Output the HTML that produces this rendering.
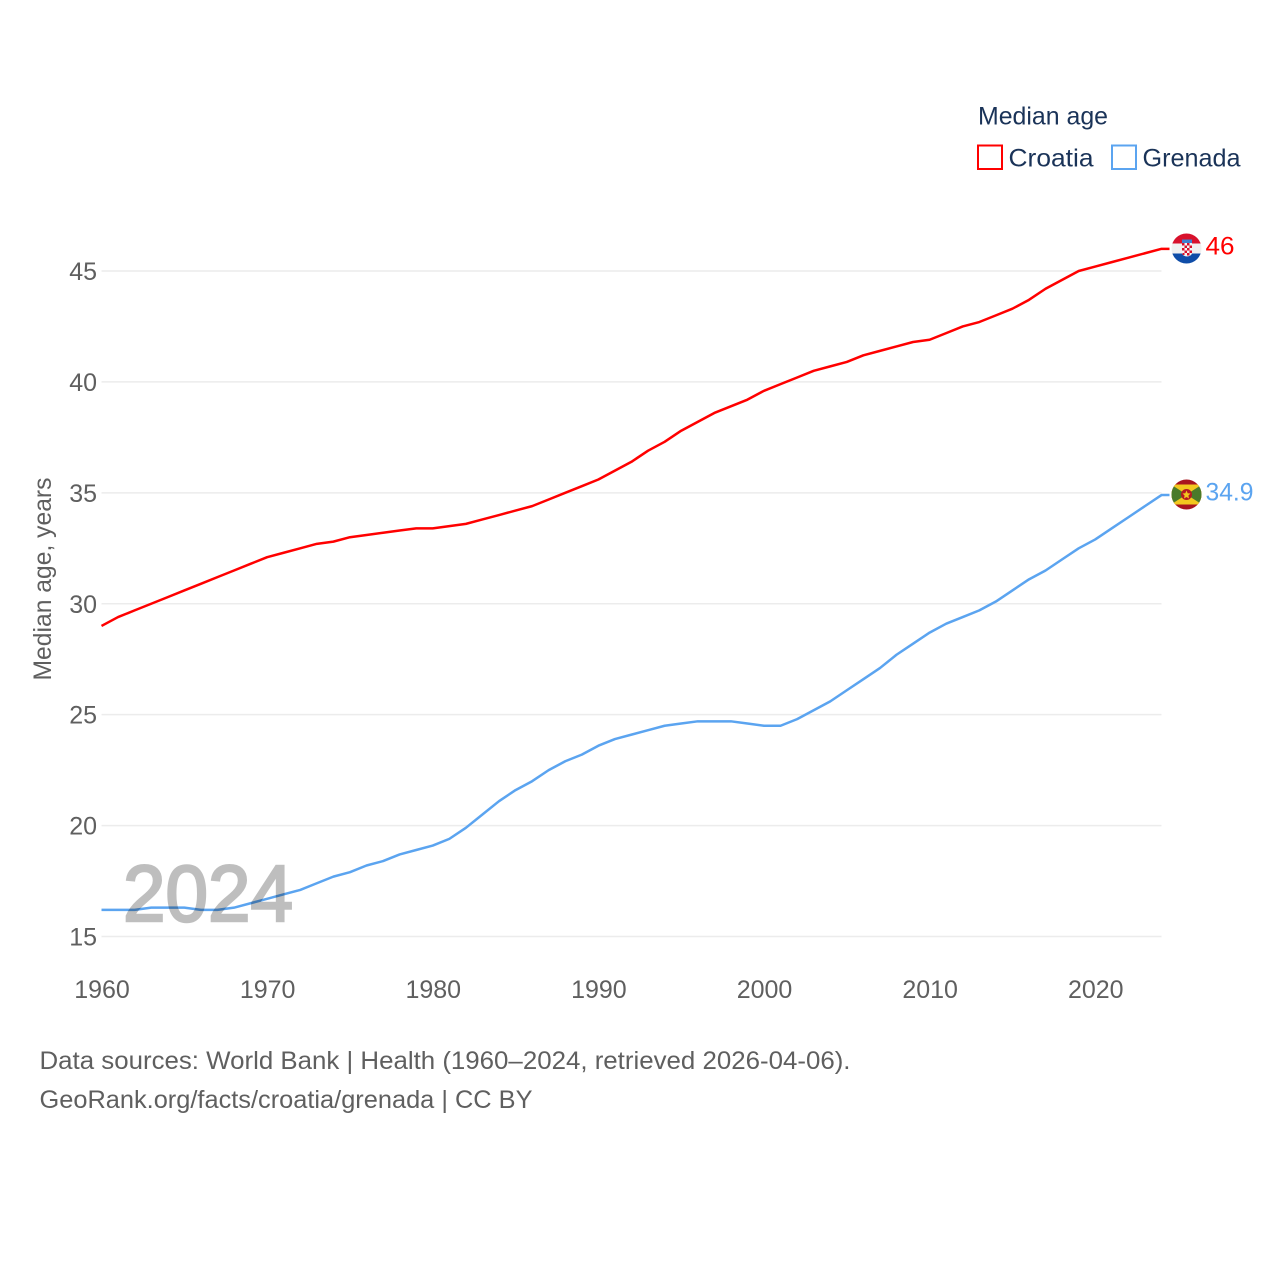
<!DOCTYPE html>
<html lang="en">
<head>
<meta charset="utf-8">
<title>Median age: Croatia and Grenada</title>
<style>
html,body{margin:0;padding:0;background:#fff;}
svg{display:block;font-family:"Liberation Sans",sans-serif;}
</style>
</head>
<body>
<svg id="chart" xmlns="http://www.w3.org/2000/svg" width="1280" height="1280" viewBox="0 0 1280 1280">
  <defs>
    <clipPath id="flag-clip-hr"><circle cx="1186.5" cy="248.5" r="15"/></clipPath>
    <clipPath id="flag-clip-gd"><circle cx="1186.5" cy="494.5" r="15"/></clipPath>
  </defs>
  <rect x="0" y="0" width="1280" height="1280" fill="#fff"/>

  <g id="grid"></g>
  <g id="yticks"></g>
  <g id="xticks"></g>
  <g id="series"></g>

  <text transform="translate(51,579) rotate(-90)" text-anchor="middle" font-size="25" fill="#5f5f5f" textLength="203" lengthAdjust="spacingAndGlyphs">Median age, years</text>

  <text x="123" y="921" font-size="80" fill="#000" stroke="#000" stroke-width="2.5" opacity="0.25" textLength="170" lengthAdjust="spacingAndGlyphs">2024</text>

  <g>
    <text x="978" y="124.5" font-size="25" fill="#1a3358" textLength="130" lengthAdjust="spacingAndGlyphs">Median age</text>
    <g>
      <rect x="978" y="145.5" width="24" height="23.5" fill="#fff" stroke="#ff0000" stroke-width="2"/>
      <text x="1008.5" y="166.5" font-size="25" fill="#1a3358" textLength="85" lengthAdjust="spacingAndGlyphs">Croatia</text>
    </g>
    <g>
      <rect x="1112" y="145.5" width="24" height="23.5" fill="#fff" stroke="#5ba4f0" stroke-width="2"/>
      <text x="1142.5" y="166.5" font-size="25" fill="#1a3358" textLength="98" lengthAdjust="spacingAndGlyphs">Grenada</text>
    </g>
  </g>

  <g clip-path="url(#flag-clip-hr)">
    <rect x="1171" y="233" width="31" height="10.5" fill="#d8112c"/>
    <rect x="1171" y="243.5" width="31" height="10" fill="#f0f0f0"/>
    <rect x="1171" y="253.5" width="31" height="11" fill="#0f4da8"/>
    <rect x="1182" y="239.5" width="10" height="3.5" fill="#3d7fd0"/>
    <path d="M1182 243h10v9.500q0 3.500-5 4q-5-.5-5-4z" fill="#f4f4f4"/>
    <path d="M1182 243h2.500v2.500h-2.500zM1187 243h2.500v2.500h-2.500zM1184.500 245.500h2.500v2.500h-2.500zM1189.500 245.500h2.500v2.500h-2.500zM1182 248h2.500v2.500h-2.500zM1187 248h2.500v2.500h-2.500zM1184.500 250.500h2.500v2.500h-2.500zM1189.500 250.500h2.500v2.500h-2.500zM1182.500 253h2v2h-2zM1187 253h2.500v2.500h-2.500z" fill="#d8112c"/>
  </g>
  <text id="value-croatia" x="1205.500" y="254.500" font-size="25" fill="#ff0000" textLength="29" lengthAdjust="spacingAndGlyphs">46</text>

  <g clip-path="url(#flag-clip-gd)">
    <rect x="1171" y="479" width="31" height="31" fill="#a8151f"/>
    <rect x="1171" y="484.500" width="31" height="20" fill="#f2c81e"/>
    <path d="M1171 484.500L1186.500 494.500L1171 504.500ZM1202 484.500L1186.500 494.500L1202 504.500Z" fill="#4a7a2a"/>
    <circle cx="1186.500" cy="494.500" r="5.500" fill="#b51a22"/>
    <path d="M1186.500 490.500L1187.700 493.300L1190.500 493.500L1188.400 495.500L1189 498.500L1186.500 497L1184 498.500L1184.600 495.500L1182.500 493.500L1185.300 493.300Z" fill="#f2c81e"/>
  </g>
  <text id="value-grenada" x="1205.500" y="500.500" font-size="25" fill="#5ba4f0" textLength="48" lengthAdjust="spacingAndGlyphs">34.9</text>

  <g>
    <text x="39.500" y="1069" font-size="25" fill="#5f5f5f" textLength="811" lengthAdjust="spacingAndGlyphs">Data sources: World Bank | Health (1960–2024, retrieved 2026-04-06).</text>
    <text x="39.500" y="1108" font-size="25" fill="#5f5f5f" textLength="493" lengthAdjust="spacingAndGlyphs">GeoRank.org/facts/croatia/grenada | CC BY</text>
  </g>
</svg>

<script>
const years = [1960,1961,1962,1963,1964,1965,1966,1967,1968,1969,1970,1971,1972,1973,1974,1975,1976,1977,1978,1979,1980,1981,1982,1983,1984,1985,1986,1987,1988,1989,1990,1991,1992,1993,1994,1995,1996,1997,1998,1999,2000,2001,2002,2003,2004,2005,2006,2007,2008,2009,2010,2011,2012,2013,2014,2015,2016,2017,2018,2019,2020,2021,2022,2023,2024];
const croatia = [29.0,29.4,29.7,30.0,30.3,30.6,30.9,31.2,31.5,31.8,32.1,32.3,32.5,32.7,32.8,33.0,33.1,33.2,33.3,33.4,33.4,33.5,33.6,33.8,34.0,34.2,34.4,34.7,35.0,35.3,35.6,36.0,36.4,36.9,37.3,37.8,38.2,38.6,38.9,39.2,39.6,39.9,40.2,40.5,40.7,40.9,41.2,41.4,41.6,41.8,41.9,42.2,42.5,42.7,43.0,43.3,43.7,44.2,44.6,45.0,45.2,45.4,45.6,45.8,46.0];
const grenada = [16.2,16.2,16.2,16.3,16.3,16.3,16.2,16.2,16.3,16.5,16.7,16.9,17.1,17.4,17.7,17.9,18.2,18.4,18.7,18.9,19.1,19.4,19.9,20.5,21.1,21.6,22.0,22.5,22.9,23.2,23.6,23.9,24.1,24.3,24.5,24.6,24.7,24.7,24.7,24.6,24.5,24.5,24.8,25.2,25.6,26.1,26.6,27.1,27.7,28.2,28.7,29.1,29.4,29.7,30.1,30.6,31.1,31.5,32.0,32.5,32.9,33.4,33.9,34.4,34.9];
const yTickValues = [15,20,25,30,35,40,45];
const xTickValues = [1960,1970,1980,1990,2000,2010,2020];

const NS = 'http://www.w3.org/2000/svg';
const xAxis = function (year) { return 101.5 + (year - 1960) * (1060 / 64); };
const yAxis = function (value) { return 936.5 - (value - 15) * (665.5 / 30); };

const grid = document.getElementById('grid');
const yticks = document.getElementById('yticks');
const xticks = document.getElementById('xticks');
const seriesGroup = document.getElementById('series');

yTickValues.forEach(function (value) {
  const line = document.createElementNS(NS, 'line');
  
  
  line.setAttribute('x1', xAxis(1960));
  line.setAttribute('x2', xAxis(2024));
  line.setAttribute('y1', yAxis(value));
  line.setAttribute('y2', yAxis(value));
  line.setAttribute('stroke', '#ececec');
  line.setAttribute('stroke-width', '1.5');
  grid.appendChild(line);

  const label = document.createElementNS(NS, 'text');
  
  
  label.setAttribute('x', 97);
  label.setAttribute('y', yAxis(value) + 9);
  label.setAttribute('text-anchor', 'end');
  label.setAttribute('font-size', '25');
  label.setAttribute('fill', '#5f5f5f');
  label.textContent = String(value);
  yticks.appendChild(label);
});

xTickValues.forEach(function (year) {
  const label = document.createElementNS(NS, 'text');
  
  
  label.setAttribute('x', xAxis(year) + 0.5);
  label.setAttribute('y', 998);
  label.setAttribute('text-anchor', 'middle');
  label.setAttribute('font-size', '25');
  label.setAttribute('fill', '#5f5f5f');
  label.textContent = String(year);
  xticks.appendChild(label);
});

function drawSeries(name, values, color) {
  const pts = values.map(function (v, i) { return xAxis(years[i]).toFixed(2) + ',' + yAxis(v).toFixed(2); });
  const last = values[values.length - 1];
  pts.push((xAxis(years[years.length - 1]) + 8).toFixed(2) + ',' + yAxis(last).toFixed(2));
  const line = document.createElementNS(NS, 'polyline');
  
  
  line.setAttribute('points', pts.join(' '));
  line.setAttribute('fill', 'none');
  line.setAttribute('stroke', color);
  line.setAttribute('stroke-width', '2.5');
  line.setAttribute('stroke-linejoin', 'round');
  seriesGroup.appendChild(line);
}
drawSeries('croatia', croatia, '#ff0000');
drawSeries('grenada', grenada, '#5ba4f0');
</script>
</body>
</html>
